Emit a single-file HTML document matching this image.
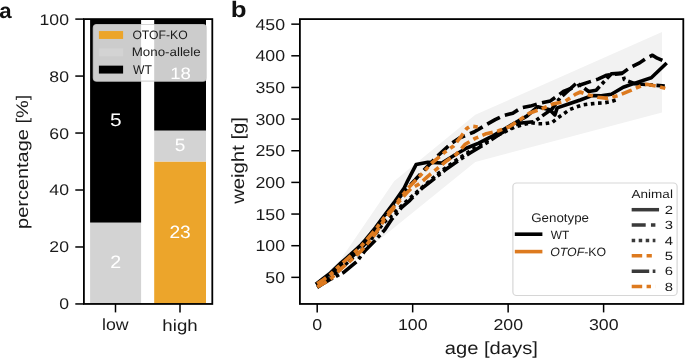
<!DOCTYPE html>
<html><head><meta charset="utf-8"><title>figure</title>
<style>
html,body{margin:0;padding:0;background:#fff;}
body{width:685px;height:358px;overflow:hidden;font-family:"Liberation Sans",sans-serif;}
svg{display:block;will-change:transform;}
</style></head><body>
<svg width="685" height="358" viewBox="0 0 685 358" text-rendering="geometricPrecision" font-family="'Liberation Sans', sans-serif">
<rect width="685" height="358" fill="#fff"/>
<rect x="90.10" y="222.57" width="51.00" height="81.38" fill="#d3d3d3"/>
<rect x="90.10" y="19.10" width="51.00" height="203.47" fill="#000"/>
<rect x="154.20" y="161.53" width="51.80" height="142.42" fill="#eca52b"/>
<rect x="154.20" y="130.56" width="51.80" height="30.96" fill="#d3d3d3"/>
<rect x="154.20" y="19.10" width="51.80" height="111.46" fill="#000"/>
<text transform="translate(109.91,126.09) scale(1.193,1.030)" font-size="17.5" fill="#fff">5</text>
<text transform="translate(110.14,267.64) scale(1.121,1.032)" font-size="17.5" fill="#fff">2</text>
<text transform="translate(169.41,237.55) scale(1.096,1.018)" font-size="17.5" fill="#fff">23</text>
<text transform="translate(174.65,150.81) scale(1.089,1.014)" font-size="17.5" fill="#fff">5</text>
<text transform="translate(170.13,78.92) scale(1.065,0.941)" font-size="17.5" fill="#fff">18</text>
<rect x="83.90" y="19.10" width="128.40" height="284.85" fill="none" stroke="#000" stroke-width="1.8"/>
<line x1="75.3" x2="83.90" y1="303.95" y2="303.95" stroke="#000" stroke-width="1.5"/>
<text transform="translate(68.97,309.41) scale(1.129,0.990)" font-size="15.6" text-anchor="end" fill="#1a1a1a">0</text>
<line x1="75.3" x2="83.90" y1="246.98" y2="246.98" stroke="#000" stroke-width="1.5"/>
<text transform="translate(68.97,252.44) scale(1.129,0.990)" font-size="15.6" text-anchor="end" fill="#1a1a1a">20</text>
<line x1="75.3" x2="83.90" y1="190.01" y2="190.01" stroke="#000" stroke-width="1.5"/>
<text transform="translate(68.97,195.47) scale(1.129,0.990)" font-size="15.6" text-anchor="end" fill="#1a1a1a">40</text>
<line x1="75.3" x2="83.90" y1="133.04" y2="133.04" stroke="#000" stroke-width="1.5"/>
<text transform="translate(68.97,138.50) scale(1.129,0.990)" font-size="15.6" text-anchor="end" fill="#1a1a1a">60</text>
<line x1="75.3" x2="83.90" y1="76.07" y2="76.07" stroke="#000" stroke-width="1.5"/>
<text transform="translate(68.97,81.53) scale(1.129,0.990)" font-size="15.6" text-anchor="end" fill="#1a1a1a">80</text>
<line x1="75.3" x2="83.90" y1="19.10" y2="19.10" stroke="#000" stroke-width="1.5"/>
<text transform="translate(68.97,24.56) scale(1.129,0.990)" font-size="15.6" text-anchor="end" fill="#1a1a1a">100</text>
<line x1="115.5" x2="115.5" y1="303.95" y2="312.4" stroke="#000" stroke-width="1.5"/>
<line x1="180.0" x2="180.0" y1="303.95" y2="312.4" stroke="#000" stroke-width="1.5"/>
<text transform="translate(102.00,330.33) scale(1.095,1.007)" font-size="16.2" fill="#1a1a1a">low</text>
<text transform="translate(162.36,330.76) scale(1.153,1.009)" font-size="16.2" fill="#1a1a1a">high</text>
<text transform="translate(28.17,228.90) rotate(-90) scale(1.133,0.958)" font-size="17.6" fill="#1a1a1a">percentage [%]</text>
<rect x="93.3" y="24.5" width="113.0" height="56.7" rx="3.4" ry="3.4" fill="#fff" fill-opacity="0.8" stroke="#ccc" stroke-opacity="0.8" stroke-width="1.2"/>
<rect x="98.9" y="31.05" width="24.2" height="7.9" fill="#eca52b"/>
<rect x="98.9" y="48.35" width="24.2" height="7.9" fill="#d3d3d3"/>
<rect x="98.9" y="65.65" width="24.2" height="7.9" fill="#000"/>
<text transform="translate(132.39,39.02) scale(0.983,0.985)" font-size="12.4" fill="#1a1a1a">OTOF-KO</text>
<text transform="translate(131.73,55.72) scale(1.076,0.983)" font-size="12.4" fill="#1a1a1a">Mono-allele</text>
<text transform="translate(132.97,73.98) scale(0.981,1.014)" font-size="12.4" fill="#1a1a1a">WT</text>
<text transform="translate(-0.66,18.26) scale(0.990,0.944)" font-size="22.5" font-weight="bold" fill="#111">a</text>
<text transform="translate(230.78,17.10) scale(1.096,0.945)" font-size="23.6" font-weight="bold" fill="#111">b</text>
<clipPath id="cb"><rect x="299.9" y="19.1" width="383.4" height="284.84999999999997"/></clipPath>
<g clip-path="url(#cb)">
<polygon points="317.2,281.5 340.0,260.5 394.1,181.2 475.3,114.8 662.0,31.9 662.0,112.5 475.3,161.9 317.2,290.0" fill="#f2f2f2"/>
<polyline points="317.2,283.2 323.0,278.8 329.6,273.7 335.0,268.6 341.3,262.6 346.0,258.5 350.7,254.4 356.0,249.5 361.4,244.5 365.0,240.3 368.5,236.1 372.0,231.8 375.5,227.6 381.0,220.0 394.8,201.5 404.2,188.0 407.9,180.3 416.1,164.6 427.8,162.3 441.9,163.0 455.2,154.8 466.9,148.0 478.7,143.1 490.4,137.2 502.3,130.2 513.0,124.0 526.9,116.1 537.8,106.7 549.6,109.7 554.9,114.9 557.2,107.9 568.5,104.0 580.2,100.0 591.9,95.6 601.3,95.8 611.4,94.3 623.2,87.2 634.9,83.1 651.3,77.8 665.4,64.3" fill="none" stroke="#000" stroke-width="3.6" stroke-linejoin="round" stroke-linecap="square"/>
<polyline points="317.2,286.0 323.0,282.0 329.6,277.2 335.0,272.1 341.3,266.1 346.0,262.0 350.7,257.9 356.0,253.0 361.4,248.0 365.0,243.8 368.5,239.2 372.0,234.5 375.5,229.8 380.0,222.9 384.0,216.7 395.0,203.2 405.0,190.5 415.0,180.0 425.0,169.0 437.6,156.0 451.7,143.1 459.9,137.8 474.0,132.0 485.9,124.9 495.2,119.6 503.5,115.5 512.8,113.2 521.1,107.9 530.4,106.1 539.8,103.2 550.4,100.9 563.4,91.5 580.0,85.0 598.0,79.1 606.7,75.2 622.0,73.4 629.0,68.2 639.6,62.9 645.4,58.8 652.5,55.2 657.2,58.2 664.2,61.1 665.4,64.0" fill="none" stroke="#000" stroke-width="3.6" stroke-linejoin="round" stroke-linecap="butt" stroke-dasharray="14.40,5.40"/>
<polyline points="317.2,287.2 323.0,283.3 329.6,278.7 335.0,273.7 341.3,267.8 346.0,263.8 350.7,259.8 356.0,255.0 361.4,250.1 365.0,246.0 368.5,242.0 372.0,238.0 375.5,233.9 380.0,227.8 384.0,222.4 397.0,210.0 410.0,198.0 425.0,185.0 440.0,172.0 455.0,161.0 470.0,151.0 485.0,142.0 500.0,134.0 515.0,127.0 530.8,122.6 537.8,123.7 544.9,123.7 551.9,122.6 557.8,117.9 563.7,113.8 569.5,109.7 575.4,107.3 582.4,105.0 589.6,104.0 596.6,103.2 603.7,102.9 610.7,101.7 617.7,99.4" fill="none" stroke="#000" stroke-width="3.6" stroke-linejoin="round" stroke-linecap="butt" stroke-dasharray="3.60,3.60"/>
<polyline points="317.2,287.2 330.0,279.5 343.7,272.3 356.6,261.7 365.0,250.7 374.3,241.3 380.2,234.9 384.9,229.6 391.9,219.0 397.0,213.2 401.7,207.3 409.9,200.3 416.9,193.2 421.6,188.6 432.2,180.3 445.0,170.0 458.0,161.0 470.0,153.0 485.0,144.0 500.0,134.0 519.0,123.2 534.3,121.7 540.2,117.3 551.9,109.1 560.0,98.0 576.9,82.7 588.7,91.5 596.2,90.2 611.4,73.7 622.6,73.1 624.3,79.6 634.9,83.7 664.8,86.0" fill="none" stroke="#000" stroke-width="3.6" stroke-linejoin="round" stroke-linecap="butt" stroke-dasharray="18.00,3.60,3.60,3.60"/>
<polyline points="317.2,286.8 323.0,283.7 329.6,279.8 335.0,274.7 341.3,268.7 346.0,264.6 350.7,260.5 356.0,255.6 361.4,250.6 365.0,246.4 368.5,242.4 372.0,238.3 375.5,233.6 380.0,226.5 384.0,220.3 388.8,214.4 398.2,202.6 406.4,193.2 411.0,188.6 419.3,183.9 427.8,176.4 446.6,160.9 456.4,154.3 465.2,144.3 475.1,138.4 486.3,133.7 498.6,130.8 509.3,126.7 519.3,120.2 529.3,113.2 541.0,109.1 552.7,104.1 565.2,101.4 575.2,94.4 580.4,92.0 586.3,94.4 598.0,97.3 607.9,98.4 618.5,95.4 631.4,90.2 641.9,85.5 646.6,84.3 656.0,86.0 665.4,88.4" fill="none" stroke="#dd7a1f" stroke-width="3.6" stroke-linejoin="round" stroke-linecap="butt" stroke-dasharray="10.80,4.50,5.40,4.50"/>
<polyline points="317.2,283.8 323.0,279.9 329.6,275.2 335.0,270.1 341.3,264.1 346.0,260.0 350.7,255.9 356.0,251.0 361.4,246.0 365.0,241.8 368.5,237.8 372.0,233.7 375.5,229.6 380.0,223.4 384.0,217.9 393.5,207.3 400.5,198.0 408.7,187.4 416.9,179.2 431.4,163.5 445.4,151.7 453.7,145.9 461.6,135.8 466.7,128.5 470.5,126.0 481.6,127.4" fill="none" stroke="#dd7a1f" stroke-width="3.6" stroke-linejoin="round" stroke-linecap="butt" stroke-dasharray="10.80,4.50,4.50,4.50,4.50,4.50"/>
</g>
<rect x="299.90" y="19.10" width="383.40" height="284.85" fill="none" stroke="#000" stroke-width="1.8"/>
<line x1="291.3" x2="299.90" y1="277.35" y2="277.35" stroke="#000" stroke-width="1.5"/>
<text transform="translate(285.14,282.83) scale(1.139,1.014)" font-size="15.6" text-anchor="end" fill="#1a1a1a">50</text>
<line x1="291.3" x2="299.90" y1="245.70" y2="245.70" stroke="#000" stroke-width="1.5"/>
<text transform="translate(285.14,251.18) scale(1.139,1.014)" font-size="15.6" text-anchor="end" fill="#1a1a1a">100</text>
<line x1="291.3" x2="299.90" y1="214.05" y2="214.05" stroke="#000" stroke-width="1.5"/>
<text transform="translate(285.14,219.53) scale(1.139,1.014)" font-size="15.6" text-anchor="end" fill="#1a1a1a">150</text>
<line x1="291.3" x2="299.90" y1="182.40" y2="182.40" stroke="#000" stroke-width="1.5"/>
<text transform="translate(285.14,187.88) scale(1.139,1.014)" font-size="15.6" text-anchor="end" fill="#1a1a1a">200</text>
<line x1="291.3" x2="299.90" y1="150.75" y2="150.75" stroke="#000" stroke-width="1.5"/>
<text transform="translate(285.14,156.23) scale(1.139,1.014)" font-size="15.6" text-anchor="end" fill="#1a1a1a">250</text>
<line x1="291.3" x2="299.90" y1="119.10" y2="119.10" stroke="#000" stroke-width="1.5"/>
<text transform="translate(285.14,124.58) scale(1.139,1.014)" font-size="15.6" text-anchor="end" fill="#1a1a1a">300</text>
<line x1="291.3" x2="299.90" y1="87.45" y2="87.45" stroke="#000" stroke-width="1.5"/>
<text transform="translate(285.14,92.93) scale(1.139,1.014)" font-size="15.6" text-anchor="end" fill="#1a1a1a">350</text>
<line x1="291.3" x2="299.90" y1="55.80" y2="55.80" stroke="#000" stroke-width="1.5"/>
<text transform="translate(285.14,61.28) scale(1.139,1.014)" font-size="15.6" text-anchor="end" fill="#1a1a1a">400</text>
<line x1="291.3" x2="299.90" y1="24.15" y2="24.15" stroke="#000" stroke-width="1.5"/>
<text transform="translate(285.14,29.63) scale(1.139,1.014)" font-size="15.6" text-anchor="end" fill="#1a1a1a">450</text>
<line x1="317.20" x2="317.20" y1="303.95" y2="312.4" stroke="#000" stroke-width="1.5"/>
<text transform="translate(317.30,330.26) scale(1.139,1.006)" font-size="15.6" text-anchor="middle" fill="#1a1a1a">0</text>
<line x1="412.67" x2="412.67" y1="303.95" y2="312.4" stroke="#000" stroke-width="1.5"/>
<text transform="translate(412.77,330.26) scale(1.139,1.006)" font-size="15.6" text-anchor="middle" fill="#1a1a1a">100</text>
<line x1="508.14" x2="508.14" y1="303.95" y2="312.4" stroke="#000" stroke-width="1.5"/>
<text transform="translate(508.24,330.26) scale(1.139,1.006)" font-size="15.6" text-anchor="middle" fill="#1a1a1a">200</text>
<line x1="603.61" x2="603.61" y1="303.95" y2="312.4" stroke="#000" stroke-width="1.5"/>
<text transform="translate(603.71,330.26) scale(1.139,1.006)" font-size="15.6" text-anchor="middle" fill="#1a1a1a">300</text>
<text transform="translate(243.76,203.85) rotate(-90) scale(1.153,1.003)" font-size="17.6" fill="#1a1a1a">weight [g]</text>
<text transform="translate(444.78,354.00) scale(1.146,1.000)" font-size="17.6" fill="#1a1a1a">age [days]</text>
<rect x="512.9" y="183.0" width="164.2" height="112.5" rx="3.6" ry="3.6" fill="#fff" fill-opacity="0.8" stroke="#ccc" stroke-opacity="0.8" stroke-width="1.2"/>
<line x1="516.6" x2="540.6" y1="234.2" y2="234.2" stroke="#000" stroke-width="3.6" stroke-linecap="square"/>
<line x1="516.6" x2="540.6" y1="251.6" y2="251.6" stroke="#dd7a1f" stroke-width="3.6" stroke-linecap="square"/>
<text transform="translate(531.21,221.93) scale(1.076,1.012)" font-size="12.4" fill="#1a1a1a">Genotype</text>
<text transform="translate(550.73,238.84) scale(0.957,0.967)" font-size="12.4" fill="#1a1a1a">WT</text>
<text transform="translate(550.18,255.76) scale(0.995,0.970)" font-size="12.4" fill="#1a1a1a"><tspan font-style="italic">OTOF</tspan>-KO</text>
<text transform="translate(631.56,198.31) scale(1.091,0.948)" font-size="12.4" fill="#1a1a1a">Animal</text>
<line x1="633.4" x2="657.3" y1="209.70" y2="209.70" stroke="#3a3a3a" stroke-width="3.5" stroke-linecap="square"/>
<text transform="translate(664.71,213.90) scale(1.197,0.959)" font-size="12.4" text-anchor="start" fill="#1a1a1a">2</text>
<line x1="631.7" x2="655.4" y1="225.06" y2="225.06" stroke="#3a3a3a" stroke-width="3.5" stroke-dasharray="14.00,5.25"/>
<text transform="translate(664.71,229.26) scale(1.197,0.959)" font-size="12.4" text-anchor="start" fill="#1a1a1a">3</text>
<line x1="631.7" x2="655.4" y1="240.42" y2="240.42" stroke="#3a3a3a" stroke-width="3.5" stroke-dasharray="3.50,3.50"/>
<text transform="translate(664.71,244.62) scale(1.197,0.959)" font-size="12.4" text-anchor="start" fill="#1a1a1a">4</text>
<line x1="631.7" x2="655.4" y1="255.78" y2="255.78" stroke="#dd7a1f" stroke-width="3.5" stroke-dasharray="10.50,4.38,5.25,4.38"/>
<text transform="translate(664.71,259.98) scale(1.197,0.959)" font-size="12.4" text-anchor="start" fill="#1a1a1a">5</text>
<line x1="631.7" x2="655.4" y1="271.14" y2="271.14" stroke="#3a3a3a" stroke-width="3.5" stroke-dasharray="17.50,3.50,3.50,3.50"/>
<text transform="translate(664.71,275.34) scale(1.197,0.959)" font-size="12.4" text-anchor="start" fill="#1a1a1a">6</text>
<line x1="631.7" x2="655.4" y1="286.50" y2="286.50" stroke="#dd7a1f" stroke-width="3.5" stroke-dasharray="10.50,4.38,4.38,4.38,4.38,4.38"/>
<text transform="translate(664.71,290.70) scale(1.197,0.959)" font-size="12.4" text-anchor="start" fill="#1a1a1a">8</text>
</svg>
</body></html>
